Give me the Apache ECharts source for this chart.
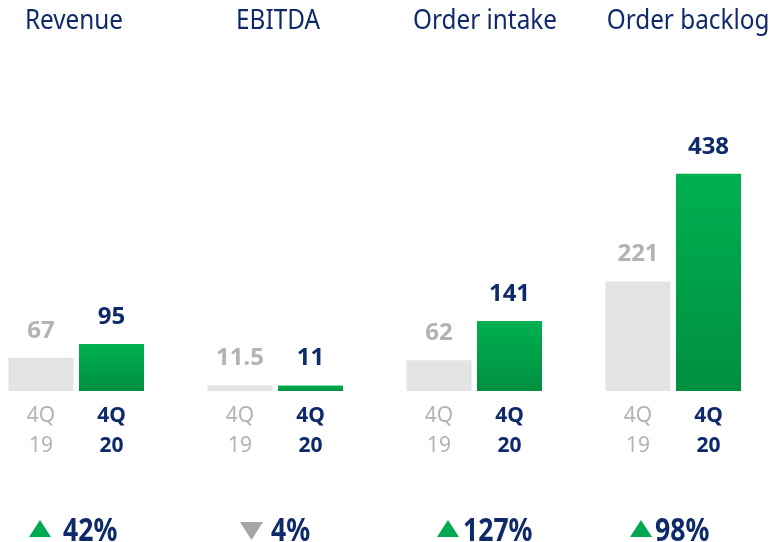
<!DOCTYPE html>
<html><head><meta charset="utf-8">
<script src="https://cdn.jsdelivr.net/npm/echarts@6/dist/echarts.min.js"></script>
<style>html,body{margin:0;padding:0;background:#fff}#c{width:777px;height:542px}</style>
</head><body><div id="c"></div>
<script>
const panels = ['Revenue', 'EBITDA', 'Order intake', 'Order backlog'];
const periods = ['4Q\n19', '4Q\n20'];
const prevValues = [67, 11.5, 62, 221];
const currValues = [95, 11, 141, 438];
const prevLabels = ['67', '11.5', '62', '221'];
const currLabels = ['95', '11', '141', '438'];
const changes = ['42%', '4%', '127%', '98%'];
const directions = ['up', 'down', 'up', 'up'];

const NAVY = '#0f2a6a', GREY_TXT = '#b3b3b3', GREY_BAR = '#e3e3e3';
const FONT = 'Noto Sans';
const greenGrad = {type:'linear', x:0, y:0, x2:0, y2:1, colorStops:[{offset:0,color:'#00b050'},{offset:1,color:'#008f40'}]};

const panelLeft = [5.75, 204.75, 403.75, 602.75];
const titleCenter = [74, 278, 485, 688];
const triLeft = [29, 240, 437, 630];
const changeLeft = [63, 271, 463, 655];

const chart = echarts.init(document.getElementById('c'));
const grids = [], xAxes = [], yAxes = [], series = [], graphics = [];
panels.forEach((p, i) => {
  grids.push({left: panelLeft[i], top: 100, width: 141, height: 291});
  xAxes.push({type:'category', gridIndex:i,
    data:[{value:periods[0], textStyle:{color:GREY_TXT, fontWeight:'normal'}},
          {value:periods[1], textStyle:{color:NAVY, fontWeight:'bold'}}],
    axisLine:{show:false}, axisTick:{show:false},
    axisLabel:{fontFamily:FONT, fontSize:21, lineHeight:30, margin:10, interval:0}});
  yAxes.push({type:'value', gridIndex:i, min:0, max:587, show:false, splitLine:{show:false}});
  series.push({type:'bar', xAxisIndex:i, yAxisIndex:i, barWidth:65, animation:false,
    data:[
      {value:prevValues[i], itemStyle:{color:GREY_BAR},
       label:{show:true, position:'top', distance:15, formatter:prevLabels[i], color:GREY_TXT, fontFamily:FONT, fontSize:24, fontWeight:'bold'}},
      {value:currValues[i], itemStyle:{color:greenGrad},
       label:{show:true, position:'top', distance:15, formatter:currLabels[i], color:NAVY, fontFamily:FONT, fontSize:24, fontWeight:'bold'}}
    ]});
  graphics.push({type:'text', x:titleCenter[i], y:8, scaleX:0.9,
    style:{text:p, fill:NAVY, font:'27px "Noto Sans"', textAlign:'center', textVerticalAlign:'top'}});
  const x = triLeft[i];
  const up = directions[i] === 'up';
  graphics.push({type:'polygon', shape:{points: up ? [[x,537],[x+22,537],[x+11,520]] : [[x,522],[x+23,522],[x+11.5,540]]},
    style:{fill: up ? '#00a850' : '#a6a6a6'}});
  graphics.push({type:'text', x: changeLeft[i], y: 516, scaleX:0.83,
    style:{text:changes[i], fill:NAVY, font:'bold 32px "Noto Sans"', textAlign:'left', textVerticalAlign:'top'}});
});

chart.setOption({
  grid: grids, xAxis: xAxes, yAxis: yAxes, series: series, graphic: graphics
});
</script></body></html>
